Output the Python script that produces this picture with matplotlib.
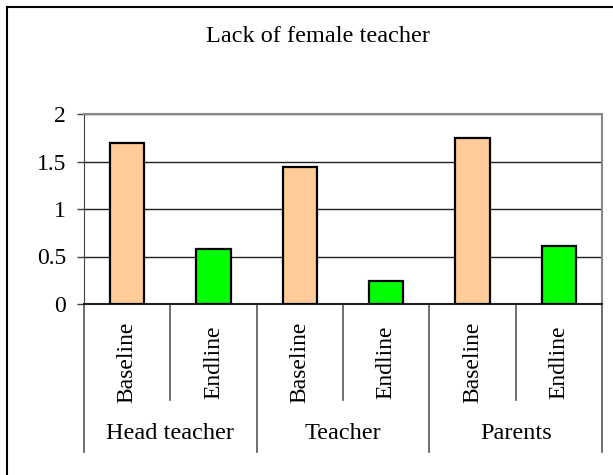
import numpy as np
import matplotlib.pyplot as plt
from matplotlib.lines import Line2D
from matplotlib.transforms import blended_transform_factory

plt.rcParams['font.family'] = ['Liberation Serif', 'DejaVu Serif']

# values
groups = ['Head teacher', 'Teacher', 'Parents']
periods = ['Baseline', 'Endline']
values = [1.69, 0.58, 1.44, 0.245, 1.75, 0.61]
colors = ['#FFCC99', '#00FF00'] * 3

fig = plt.figure(figsize=(6.13, 4.75), dpi=100)
ax = fig.add_axes([84/613, 1-304/475, (602-84)/613, (304-114)/475])

x = np.arange(len(values))
ax.bar(x, values, width=0.4, color=colors, edgecolor='black', linewidth=1.6, zorder=3)

ax.set_xlim(-0.5, 5.5)
ax.set_ylim(0, 2)
ax.set_yticks([0, 0.5, 1, 1.5, 2])
ax.set_yticklabels(['0', '0.5', '1', '1.5', '2'], fontsize=17)
ax.tick_params(axis='y', length=5, width=1, pad=8, color='#404040')
ax.set_xticks([])
ax.yaxis.grid(True, color='#202020', linewidth=1)
ax.set_axisbelow(True)
for s in ['top', 'right']:
    ax.spines[s].set_color('#888888')
    ax.spines[s].set_linewidth(1.5)
ax.spines['left'].set_color('#404040')
ax.spines['bottom'].set_color('#202020')
ax.spines['bottom'].set_linewidth(1.5)

# two-level category axis
tr = blended_transform_factory(ax.transData, ax.transAxes)
for i in range(len(values)):
    ax.text(x[i], -0.305, periods[i % 2], rotation=90, ha='center', va='center',
            fontsize=17, transform=tr)
for k in range(7):
    xs = k - 0.5
    yb = -0.779 if k % 2 == 0 else -0.505
    ax.add_line(Line2D([xs, xs], [0, yb], transform=tr, color='#555555',
                       linewidth=1.2, clip_on=False))
for j, g in enumerate(groups):
    ax.text(2*j + 0.5, -0.679, g, ha='center', va='center', fontsize=17.5, transform=tr)

fig.text(318/613, 1-37/475, 'Lack of female teacher', ha='center', va='center', fontsize=17.5)

# outer chart border (left and top visible)
fig.add_artist(Line2D([7/613, 7/613], [0, 1-7/475], color='black', linewidth=1.5))
fig.add_artist(Line2D([7/613, 1], [1-7/475, 1-7/475], color='black', linewidth=1.5))

fig.savefig('out.png', dpi=100)
